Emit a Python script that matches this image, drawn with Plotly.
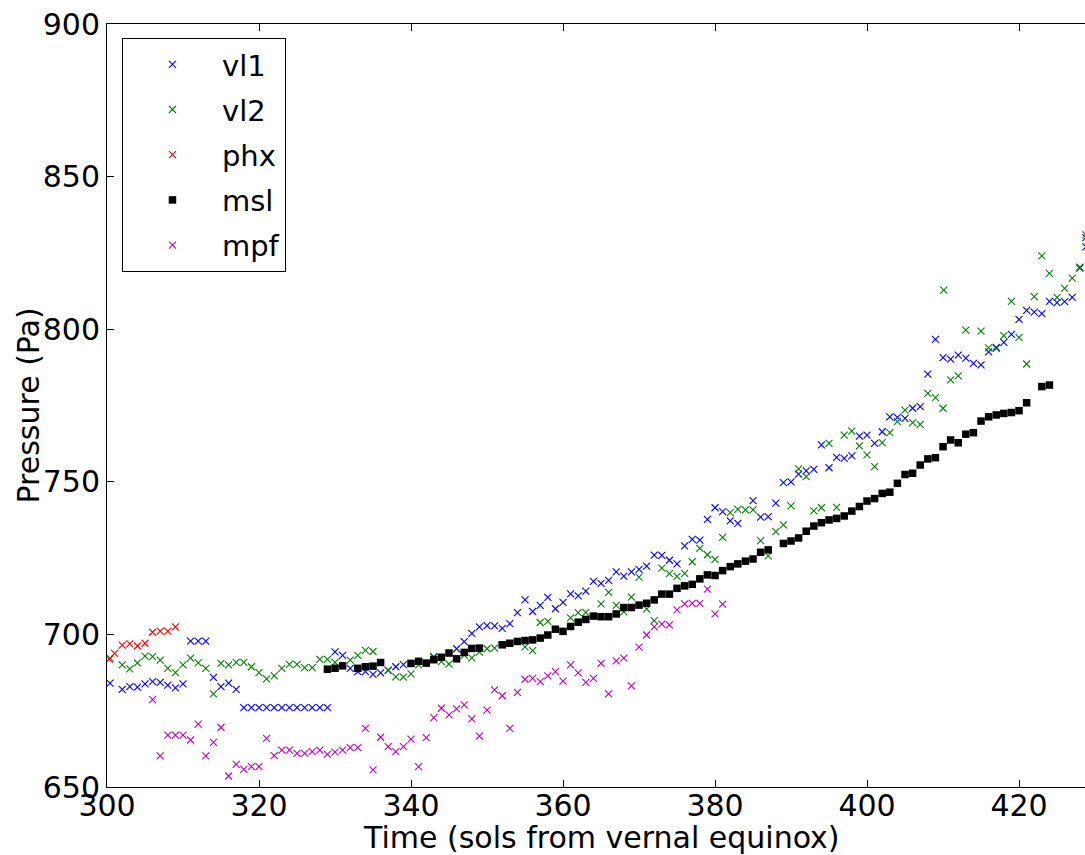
import plotly.graph_objects as go

# ---------------- data ----------------
vl1_x = [300.4, 302, 303, 304, 305, 306, 307, 308, 309, 310,
         311, 312, 313, 314, 315, 316, 317,
         318, 319, 320, 321, 322, 323, 324, 325, 326, 327, 328, 329,
         330, 331, 332, 333, 334, 335, 336, 337, 338, 339, 343,
         346, 347, 348, 349, 350, 351, 352, 353, 354, 355, 356, 357, 358, 359,
         360, 361, 362, 363, 364, 365, 366, 367, 368, 369, 370, 371, 372, 373,
         374, 375, 376, 377, 378, 379, 380, 381, 382, 383, 385, 386, 387, 388,
         389, 390, 391, 392, 393, 394, 395, 396, 397, 398, 399, 400, 401, 402,
         403, 404, 405, 406, 407, 408, 409, 410, 411, 412, 413, 414, 415, 416,
         417, 418, 419, 420, 421, 422, 423, 424, 425, 426, 427, 428, 428.8, 428.8]
vl1_y = [684.0, 682.0, 682.9, 682.7, 683.8, 684.5, 684.3, 683.4, 682.5, 683.8,
         697.8, 697.8, 697.8, 685.9, 682.9, 684.0, 682.0,
         676.0, 676.0, 676.0, 676.0, 676.0, 676.0, 676.0, 676.0, 676.0, 676.0, 676.0, 676.0,
         694.3, 693.1, 688.9, 687.8, 687.8, 686.9, 687.4, 688.3, 689.4, 690.1, 692.7,
         695.3, 697.6, 700.3, 702.5, 702.9, 702.8, 702.0, 703.5, 707.1, 711.3, 707.5, 709.5, 712.1, 708.4,
         710.5, 713.3, 712.6, 714.2, 717.4, 716.7, 717.7, 720.5, 719.1, 720.5, 721.3, 722.4, 726.0, 725.9,
         724.3, 723.1, 729.0, 731.1, 730.9, 737.7, 741.5, 740.2, 737.2, 736.4, 743.8, 738.4, 738.6, 743.0,
         749.7, 750.0, 752.5, 753.6, 754.1, 762.1, 754.6, 758.0, 757.7, 758.5, 765.0, 765.3, 762.6, 766.4,
         771.3, 771.1, 770.8, 774.1, 774.6, 785.3, 796.7, 790.7, 790.2, 791.5, 790.5, 788.8, 788.3, 792.6,
         794.0, 795.7, 798.3, 803.2, 806.2, 805.6, 805.1, 809.1, 808.7, 809.0, 810.4, 820.0, 827.0, 830.0]

vl2_x = [300.4, 302, 303, 304, 305, 306, 307, 308, 309, 310, 311, 312, 313, 314,
         315, 316, 317, 318, 319, 320, 321, 322, 323, 324, 325, 326, 327, 328, 329,
         330, 332, 333, 334, 335, 337, 338, 339, 340, 341, 343, 344, 345, 347, 348,
         349, 350, 351, 355, 356, 357, 358, 361, 362, 363, 365, 366, 367, 368, 369,
         370, 371, 372, 373, 374, 375, 376, 377, 378, 379, 380, 381, 382, 383, 384,
         385, 386, 387, 388, 389, 390, 391, 392, 393, 394, 395, 396, 397, 398, 399,
         400, 401, 402, 403, 404, 405, 406, 407, 408, 409, 410, 410.1, 411, 412, 413,
         415, 416, 417, 418, 419, 420, 421, 422, 423, 424, 425, 426, 427, 428, 428.8]
vl2_y = [692.2, 690.0, 688.7, 690.7, 692.9, 692.7, 691.6, 688.9, 687.5, 690.0, 692.2, 690.7, 688.9, 680.5,
         690.5, 690.0, 690.8, 690.8, 689.4, 687.5, 685.4, 686.4, 688.9, 690.2, 690.2, 689.1, 689.1, 691.8, 691.8,
         690.8, 691.6, 693.1, 694.8, 694.4, 688.2, 686.1, 686.0, 687.1, 690.0, 692.4, 691.1, 690.3, 693.2, 692.3,
         694.2, 695.3, 695.5, 695.9, 694.7, 703.9, 704.3, 705.4, 707.1, 707.2, 710.0, 713.8, 709.5, 707.4, 712.2,
         718.8, 708.3, 704.5, 721.7, 719.9, 719.0, 720.0, 723.8, 728.2, 726.1, 724.6, 731.8, 739.9, 741.0, 740.8,
         740.8, 730.7, 725.7, 733.7, 735.9, 742.1, 754.2, 751.7, 740.5, 741.5, 762.6, 741.6, 765.3, 766.6, 761.8,
         758.8, 755.0, 762.8, 766.1, 769.7, 773.5, 769.4, 768.8, 779.0, 777.6, 774.1, 812.8, 783.4, 784.7, 799.7,
         799.4, 793.9, 793.7, 797.9, 809.1, 797.3, 788.6, 810.7, 824.0, 818.3, 810.4, 813.4, 816.7, 820.3, 830.9]

phx_x = [300.3, 301, 302, 303, 304, 305, 306, 307, 308, 309]
phx_y = [691.9, 693.8, 696.5, 696.9, 696.2, 697.1, 700.7, 701.1, 701.1, 702.5]

msl_x = [329, 330, 331, 333, 334, 335, 336, 340, 341, 342, 343, 344, 345, 346, 347, 348, 349,
         352, 353, 354, 355, 356, 357, 358, 359, 360, 361, 362, 363, 364, 365, 366, 367, 368,
         369, 370, 371, 372, 373, 374, 375, 376, 377, 378, 379, 380, 381, 382, 383, 384, 385,
         386, 387, 389, 390, 391, 392, 393, 394, 395, 396, 397, 398, 399, 400, 401, 402, 403,
         404, 405, 406, 407, 408, 409, 410, 411, 412, 413, 414, 415, 416, 417, 418, 419, 420,
         421, 423, 424]
msl_y = [688.6, 688.9, 689.7, 688.9, 689.4, 689.6, 690.8, 690.5, 691.2, 690.6, 691.7, 692.5, 693.9, 692.0, 694.1, 695.4, 695.5,
         696.6, 697.1, 697.7, 698.0, 698.2, 698.8, 699.8, 701.7, 701.0, 702.6, 704.0, 704.9, 706.0, 705.8, 705.8, 706.7, 708.8,
         708.8, 709.6, 710.2, 711.3, 713.2, 713.2, 715.1, 715.9, 716.4, 718.2, 719.5, 719.3, 720.9, 722.2, 723.1, 724.0, 724.7,
         726.9, 727.7, 729.8, 730.6, 731.6, 733.8, 735.5, 736.6, 737.5, 738.0, 738.8, 740.4, 741.9, 743.7, 744.5, 746.2, 746.6,
         749.5, 752.4, 752.8, 755.5, 757.5, 757.9, 761.5, 763.7, 762.8, 765.6, 766.1, 769.9, 771.3, 771.9, 772.4, 772.7, 773.3,
         775.9, 781.2, 781.7]

mpf_x = [306, 307, 308, 309, 310, 311, 312, 313, 314, 315, 316, 317, 318, 319, 320, 321, 322, 323,
         324, 325, 326, 327, 328, 329, 330, 331, 332, 333, 334, 335, 336, 337, 338, 339, 340, 341,
         342, 343, 344, 345, 346, 347, 348, 349, 350, 351, 352, 353, 354, 355, 356, 357, 358, 359,
         360, 361, 362, 363, 364, 365, 366, 367, 368, 369, 370, 371, 372, 373, 374, 375, 376, 377,
         378, 379, 380, 381]
mpf_y = [678.6, 660.2, 667.0, 667.0, 667.0, 665.4, 670.6, 660.2, 664.6, 669.5, 653.6, 657.4, 655.8, 656.7, 656.7, 665.9, 660.3, 662.1,
         662.1, 661.0, 661.0, 661.6, 662.1, 660.7, 661.4, 662.1, 662.9, 662.9, 669.2, 655.6, 666.3, 663.2, 661.6, 663.2, 665.7, 656.7,
         666.2, 672.7, 675.8, 673.6, 675.6, 676.9, 672.3, 666.7, 675.2, 681.8, 679.9, 669.2, 681.0, 685.3, 685.6, 684.5, 686.4, 687.8,
         684.7, 690.0, 687.4, 684.3, 685.6, 690.5, 680.5, 691.3, 692.2, 683.1, 695.8, 699.8, 702.5, 703.4, 703.1, 708.0, 710.0, 710.2,
         710.2, 714.8, 706.7, 709.9]

x_ticks = [300, 320, 340, 360, 380, 400, 420]
y_ticks = [650, 700, 750, 800, 850, 900]
x_title = "Time (sols from vernal equinox)"
y_title = "Pressure (Pa)"

# ---------------- figure ----------------
FONT = "DejaVu Sans"
fig = go.Figure()

def xmarks(name, xs, ys, color):
    fig.add_trace(go.Scatter(
        x=xs, y=ys, mode="markers", name=name, legendgroup=name,
        marker=dict(symbol="x-thin", size=7, color=color,
                    line=dict(width=1.1, color=color))))

xmarks("vl1", vl1_x, vl1_y, "#0000ff")
xmarks("vl2", vl2_x, vl2_y, "#008000")
xmarks("phx", phx_x, phx_y, "#ff0000")
fig.add_trace(go.Scatter(
    x=msl_x, y=msl_y, mode="markers", name="msl", legendgroup="msl",
    marker=dict(symbol="square", size=7.5, color="#000000", line=dict(width=0))))
xmarks("mpf", mpf_x, mpf_y, "#bf00bf")

fig.update_layout(
    width=1085, height=855,
    margin=dict(l=107, r=0, t=24, b=68, autoexpand=False),
    paper_bgcolor="white", plot_bgcolor="white",
    font=dict(family=FONT, size=30, color="black"),
    showlegend=True,
    legend=dict(x=0.0153, y=0.9817, xanchor="left", yanchor="top",
                bgcolor="white", bordercolor="black", borderwidth=1,
                font=dict(family=FONT, size=29, color="black"),
                itemwidth=89, tracegroupgap=4.5, traceorder="grouped"),
    annotations=[
        dict(text=x_title, xref="paper", yref="paper", x=(601 - 107) / 978,
             y=(787 - 837) / 763, xanchor="center", yanchor="middle",
             showarrow=False, font=dict(family=FONT, size=30, color="black")),
        dict(text=y_title, xref="paper", yref="paper", x=(28 - 107) / 978,
             y=0.5, xanchor="center", yanchor="middle", textangle=-90,
             showarrow=False, font=dict(family=FONT, size=30, color="black")),
    ],
)

fig.update_xaxes(
    range=[300, 428.68], tickmode="array", tickvals=x_ticks,
    ticktext=[str(v) for v in x_ticks], automargin=False,
    ticks="inside", ticklen=7, tickwidth=1, tickcolor="black",
    ticklabelstandoff=-8,
    showline=True, linecolor="black", linewidth=1, mirror="ticks",
    showgrid=False, zeroline=False,
    tickfont=dict(family=FONT, size=30, color="black"),
)
fig.update_yaxes(
    range=[650, 900], tickmode="array", tickvals=y_ticks,
    ticktext=[str(v) for v in y_ticks], automargin=False,
    ticks="inside", ticklen=7, tickwidth=1, tickcolor="black",
    showline=True, linecolor="black", linewidth=1, mirror=False,
    showgrid=False, zeroline=False,
    tickfont=dict(family=FONT, size=30, color="black"),
)

fig.write_html(
    "out.html",
    config={"displayModeBar": False},
    post_script=("document.body.style.margin='0';"
                 "document.body.style.padding='0';"
                 "document.body.style.overflow='hidden';"),
)
